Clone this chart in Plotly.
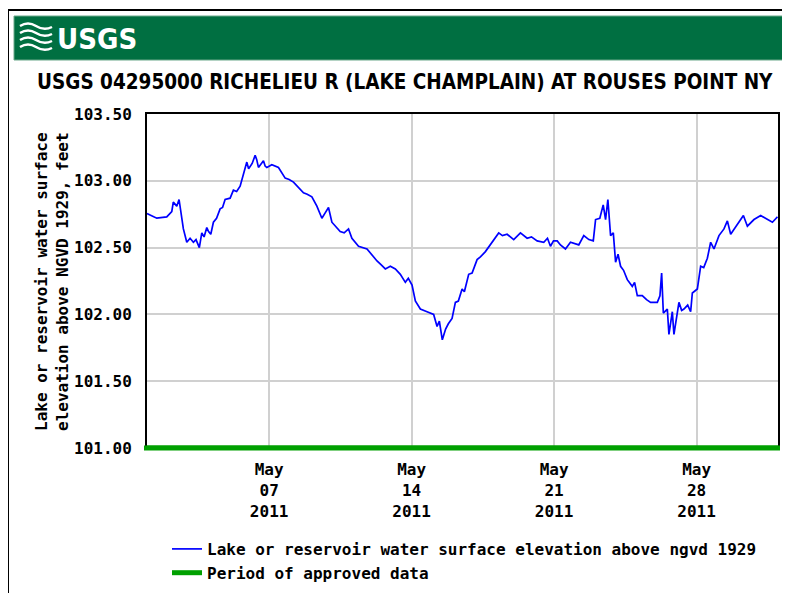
import pandas as pd
import plotly.graph_objects as go

# hours after 2011-05-01 00:00 and lake elevation (ft)
hours = [0, 11.5, 23.3, 29.2, 31.0, 35.1, 37.8, 39.8, 42.9, 46.9, 50.8, 54.7, 57.8,
         61.7, 64.6, 67.3, 70.5, 72.6, 75.2, 78.3, 82.0, 86.2, 89.1, 92.1, 98.0,
         101.9, 105.7, 109.8, 113.7, 117.7, 119.8, 121.6, 124.0, 127.5, 129.3,
         131.4, 134.0, 137.3, 139.3, 141.3, 147.2, 155.0, 162.9, 167.6, 172.7,
         178.3, 184.5, 188.9, 194.4, 200.3, 206.2, 210.1, 214.0, 218.0, 223.1,
         227.8, 232.5, 237.6, 241.6, 249.4, 259.4, 264.4, 271.2, 276.2, 281.0,
         286.9, 292.8, 298.7, 304.6, 308.1, 312.5, 316.4, 322.3, 330.2, 338.0,
         342.0, 344.7, 348.2, 352.1, 355.3, 359.7, 363.6, 367.1, 371.5, 374.2,
         379.3, 383.3, 389.2, 393.1, 399.0, 406.9, 414.7, 419.1, 424.6, 432.4,
         440.3, 448.2, 453.3, 460.0, 467.8, 472.2, 475.7, 479.3, 483.7, 487.5,
         493.4, 499.3, 504.1, 509.1, 515.0, 521.0, 526.2, 528.9, 533.9, 537.9,
         540.7, 543.4, 546.6, 549.8, 552.5, 555.4, 558.4, 561.9, 566.3, 572.2,
         574.9, 578.1, 584.0, 589.0, 593.8, 601.7, 604.8, 606.8, 608.8, 613.5,
         615.4, 619.4, 621.3, 624.5, 627.2, 630.4, 633.1, 637.5, 641.0, 643.0,
         648.9, 652.8, 656.4, 660.7, 664.6, 668.5, 674.4, 680.3, 684.3, 688.2,
         696.1, 703.2, 707.9, 715.7, 723.6, 731.5, 737.4, 743.4]
elev = [102.755, 102.72, 102.73, 102.77, 102.84, 102.81, 102.86, 102.76, 102.64,
        102.54, 102.57, 102.54, 102.56, 102.50, 102.61, 102.58, 102.65, 102.62,
        102.60, 102.69, 102.72, 102.79, 102.80, 102.86, 102.87, 102.93, 102.92,
        102.96, 103.05, 103.14, 103.09, 103.11, 103.13, 103.19, 103.16, 103.10,
        103.12, 103.15, 103.11, 103.10, 103.12, 103.10, 103.02, 103.01, 102.99,
        102.95, 102.91, 102.90, 102.88, 102.81, 102.72, 102.76, 102.80, 102.69,
        102.65, 102.62, 102.61, 102.64, 102.57, 102.51, 102.49, 102.45, 102.40,
        102.37, 102.34, 102.36, 102.34, 102.30, 102.24, 102.27, 102.22, 102.10,
        102.04, 102.02, 102.00, 101.91, 101.95, 101.81, 101.89, 101.93, 101.97,
        102.09, 102.10, 102.19, 102.17, 102.30, 102.31, 102.41, 102.43, 102.47,
        102.54, 102.61, 102.59, 102.60, 102.56, 102.61, 102.57, 102.58, 102.55,
        102.54, 102.57, 102.51, 102.55, 102.55, 102.52, 102.49, 102.54, 102.53,
        102.52, 102.59, 102.56, 102.55, 102.71, 102.72, 102.82, 102.71, 102.86,
        102.59, 102.61, 102.39, 102.45, 102.36, 102.33, 102.26, 102.21, 102.24,
        102.14, 102.14, 102.11, 102.09, 102.09, 102.14, 102.31, 102.01, 102.04,
        101.85, 102.02, 101.85, 101.98, 102.09, 102.03, 102.04, 102.07, 102.02,
        102.16, 102.19, 102.36, 102.35, 102.42, 102.54, 102.49, 102.59, 102.64,
        102.70, 102.60, 102.67, 102.74, 102.66, 102.71, 102.74, 102.71, 102.69,
        102.73]

approved_start = "2011-05-01 00:00"
approved_end = "2011-06-01 00:00"
approved_level = 101.0

tick_dates = ["2011-05-07", "2011-05-14", "2011-05-21", "2011-05-28"]
tick_text = ["May<br>07<br>2011", "May<br>14<br>2011", "May<br>21<br>2011", "May<br>28<br>2011"]
y_ticks = [101.0, 101.5, 102.0, 102.5, 103.0, 103.5]

times = pd.Timestamp("2011-05-01") + pd.to_timedelta(hours, unit="h")

mono = dict(family="DejaVu Sans Mono", size=16, color="black", weight="bold")
narrow = "DejaVu Sans Condensed, Roboto, Liberation Sans"

# the page body adds an 8px margin, so the figure is 8px smaller each way
W, H = 782, 585
# plot area in page pixels: 147..778 x 114..448
L, R, T, B = 147, 778, 114, 448
def px(x):
    return (x - L) / (R - L)
def py(y):
    return (B - y) / (B - T)

fig = go.Figure()
fig.add_trace(go.Scatter(
    x=times, y=elev, mode="lines",
    line=dict(color="#0000ff", width=1.7),
    name="Lake or reservoir water surface elevation above ngvd 1929",
))
fig.add_trace(go.Scatter(
    x=[approved_start, approved_end], y=[approved_level, approved_level], mode="lines",
    line=dict(color="#00a000", width=5),
    name="Period of approved data",
))

shapes = [
    # outer frame
    dict(type="path", xref="paper", yref="paper",
         path=f"M {px(8)},{py(600)} L {px(8)},{py(10)} L {px(800)},{py(10)}",
         line=dict(color="black", width=2)),
    # green header band
    dict(type="rect", xref="paper", yref="paper", x0=px(14), x1=px(800), y0=py(60), y1=py(16),
         fillcolor="#006f41", line=dict(color="#6aa88a", width=1)),
    # approved data bar over the bottom axis
    dict(type="line", xref="paper", yref="paper", x0=px(144), x1=px(780), y0=py(448), y1=py(448),
         line=dict(color="#00a000", width=5), layer="above"),
]
# wave logo
for yy in [26, 33, 40, 47]:
    shapes.append(dict(
        type="path", xref="paper", yref="paper",
        path=(f"M {px(20)},{py(yy)} Q {px(28)},{py(yy - 5)} {px(36)},{py(yy)} "
              f"T {px(52)},{py(yy + 1)}"),
        line=dict(color="white", width=2.5)))

annotations = [
    dict(text="<b>USGS</b>", x=px(55), y=py(39), xref="paper", yref="paper",
         xanchor="left", yanchor="middle", showarrow=False,
         font=dict(family=narrow, size=29, color="white")),
    dict(text="<b>USGS 04295000 RICHELIEU R (LAKE CHAMPLAIN) AT ROUSES POINT NY</b>",
         x=px(405), y=py(82), xref="paper", yref="paper", xanchor="center", yanchor="middle",
         showarrow=False,
         font=dict(family=narrow, size=20.5, color="black")),
    dict(text="Lake or reservoir water surface<br>elevation above NGVD 1929, feet",
         x=px(52), y=py(282), xref="paper", yref="paper", xanchor="center", yanchor="middle",
         textangle=-90, showarrow=False, font=mono),
]

fig.update_layout(
    width=W, height=H,
    margin=dict(l=L - 8, r=W - (R - 8), t=T - 8, b=H - (B - 8), autoexpand=False),
    paper_bgcolor="white", plot_bgcolor="white",
    showlegend=True,
    legend=dict(x=px(167), y=py(532), xanchor="left", yanchor="top",
                font=mono, bgcolor="rgba(0,0,0,0)", tracegroupgap=0),
    shapes=shapes, annotations=annotations,
    xaxis=dict(range=["2011-05-01", "2011-06-01"], tickvals=tick_dates, ticktext=tick_text,
               showgrid=True, gridcolor="#d0d0d0", gridwidth=1.5,
               showline=True, linecolor="black", linewidth=2, mirror=True,
               ticks="", ticklabelstandoff=6, tickfont=mono, zeroline=False),
    yaxis=dict(range=[101.0, 103.5], tickvals=y_ticks, tickformat=".2f",
               showgrid=True, gridcolor="#d0d0d0", gridwidth=1.5,
               showline=True, linecolor="black", linewidth=2, mirror=True,
               ticks="", ticklabelstandoff=10, tickfont=mono, zeroline=False),
)

fig.write_html("out.html")
